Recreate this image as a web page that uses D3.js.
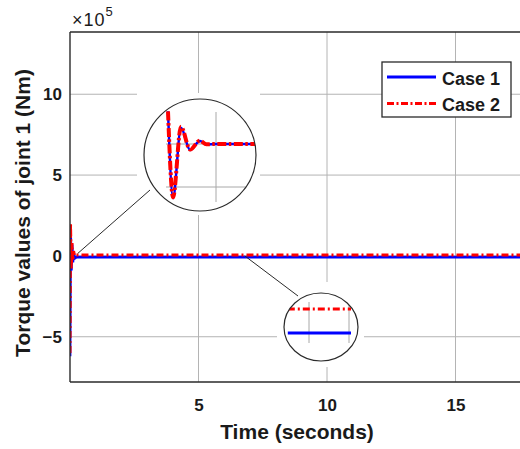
<!DOCTYPE html>
<html>
<head>
<meta charset="utf-8">
<script src="https://cdn.jsdelivr.net/npm/d3@7"></script>
<style>
  html, body { margin: 0; padding: 0; background: #fff; }
  svg { display: block; }
  text { font-family: "Liberation Sans", Arial, sans-serif; fill: #1a1a1a; }
</style>
</head>
<body>
<svg id="chart" width="520" height="449"></svg>
<script>
// Joint 1 torque (units of 1e5 Nm) over time (seconds)
const case1Time = [0, 0.02, 0.05, 0.08, 0.11, 0.14, 0.18, 0.25, 20];
const case1Torque = [-6.2, 1.6, -0.9, 0.7, -0.4, 0.2, -0.15, -0.07, -0.07];
const case2Time = [0, 0.02, 0.05, 0.08, 0.11, 0.14, 0.18, 0.25, 20];
const case2Torque = [-6.0, 2.0, -0.8, 0.8, -0.3, 0.3, 0.0, 0.05, 0.05];

// Close-up of the start-up transient (shown in the upper magnifier)
const zoomTime = [0, 0.021, 0.054, 0.092, 0.133, 0.16, 0.2, 0.45];
const zoomCase1 = [0.38, -0.63, 0.19, -0.07, 0.035, -0.005, 0, 0];
const zoomCase2 = [0.38, -0.62, 0.2, -0.065, 0.04, -0.003, 0, 0];

// Close-up of the steady state (shown in the lower magnifier)
const steadyTime = [9.47, 11.05];

const xTicks = [5, 10, 15];
const yTicks = [-5, 0, 5, 10];
const seriesNames = ["Case 1", "Case 2"];
const seriesColors = ["#0000ff", "#ff0000"];

const svg = d3.select("#chart");
const x = d3.scaleLinear().domain([0, 20]).range([70, 584]);
const y = d3.scaleLinear().domain([-7.8, 13.85]).range([382, 32]);
const plotRight = 560;

svg.append("defs").append("clipPath").attr("id", "plotClip")
  .append("rect").attr("x", x(0)).attr("y", y.range()[1])
  .attr("width", x(20) - x(0)).attr("height", y.range()[0] - y.range()[1]);

// grid
const grid = svg.append("g").attr("stroke", "#b4b4b4").attr("stroke-width", 1);
grid.selectAll(".gx").data(xTicks.concat([20])).join("line")
  .attr("x1", d => x(d)).attr("x2", d => x(d))
  .attr("y1", y.range()[1]).attr("y2", y.range()[0]);
grid.selectAll(".gy").data(yTicks).join("line")
  .attr("x1", x(0)).attr("x2", plotRight)
  .attr("y1", d => y(d)).attr("y2", d => y(d));

// white backdrops behind the magnifiers
svg.append("rect").attr("x", 137).attr("y", 93).attr("width", 123).attr("height", 122).attr("fill", "#fff");
svg.append("rect").attr("x", 277).attr("y", 282).attr("width", 87).attr("height", 85).attr("fill", "#fff");

// main traces
const line = d3.line().x(d => x(d[0])).y(d => y(d[1]));
const traces = svg.append("g").attr("clip-path", "url(#plotClip)").attr("fill", "none");
traces.append("path")
  .attr("d", line(case1Time.map((t, i) => [t, case1Torque[i]])))
  .attr("stroke", seriesColors[0]).attr("stroke-width", 2.8);
traces.append("path")
  .attr("d", line(case2Time.map((t, i) => [t, case2Torque[i]])))
  .attr("stroke", seriesColors[1]).attr("stroke-width", 3)
  .attr("stroke-dasharray", "7,3,2,3");

// axes box
const axisG = svg.append("g").attr("stroke", "#2a2a2a").attr("stroke-width", 1.4);
axisG.append("line").attr("x1", x(0)).attr("x2", x(0)).attr("y1", y.range()[1]).attr("y2", y.range()[0]);
axisG.append("line").attr("x1", x(0)).attr("x2", plotRight).attr("y1", y.range()[0]).attr("y2", y.range()[0]);
axisG.append("line").attr("x1", x(0)).attr("x2", plotRight).attr("y1", y.range()[1]).attr("y2", y.range()[1]);

// tick labels
const xAxis = svg.append("g").attr("transform", `translate(0,${y.range()[0]})`)
  .call(d3.axisBottom(x).tickValues(xTicks).tickSize(0).tickPadding(17));
const yAxis = svg.append("g").attr("transform", `translate(${x(0)},0)`)
  .call(d3.axisLeft(y).tickValues(yTicks).tickSize(0).tickPadding(8));
[xAxis, yAxis].forEach(g => {
  g.select(".domain").remove();
  g.selectAll("text").attr("font-size", 17).attr("font-weight", "bold")
    .attr("font-family", "Liberation Sans, Arial, sans-serif").attr("fill", "#1a1a1a");
});

// exponent
const expo = svg.append("text").attr("x", 72).attr("y", 26).attr("font-size", 18)
  .attr("letter-spacing", 1);
expo.append("tspan").text("\u00d710");
expo.append("tspan").attr("font-size", 13).attr("dy", -10).text("5");

// axis titles
svg.append("text").attr("x", 297).attr("y", 439).attr("text-anchor", "middle")
  .attr("font-size", 21).attr("font-weight", "bold").text("Time (seconds)");
svg.append("text").attr("transform", "translate(30,213) rotate(-90)").attr("text-anchor", "middle")
  .attr("font-size", 21).attr("font-weight", "bold").text("Torque values of joint 1 (Nm)");

// ---- upper magnifier: start-up transient ----
const c1 = { cx: 200, cy: 155, r: 56 };
const zx = d3.scaleLinear().domain([0, 0.2]).range([168, 216]);
const zy = d3.scaleLinear().domain([0, -0.5]).range([144, 187]);
const defs = svg.select("defs");
defs.append("clipPath").attr("id", "zoomClip1")
  .append("circle").attr("cx", c1.cx).attr("cy", c1.cy).attr("r", c1.r);
const z1 = svg.append("g").attr("clip-path", "url(#zoomClip1)");
z1.append("circle").attr("cx", c1.cx).attr("cy", c1.cy).attr("r", c1.r).attr("fill", "#fff");
const z1grid = z1.append("g").attr("stroke", "#a8a8a8").attr("stroke-width", 1);
z1grid.append("line").attr("x1", zx(0.2)).attr("x2", zx(0.2)).attr("y1", 112).attr("y2", 202);
[0, -0.5].forEach(v => z1grid.append("line").attr("x1", 166).attr("x2", 262).attr("y1", zy(v)).attr("y2", zy(v)));
const zline = d3.line().curve(d3.curveMonotoneX).x(d => zx(d[0])).y(d => zy(d[1]));
z1.append("path").attr("fill", "none").attr("stroke", seriesColors[0]).attr("stroke-width", 2.5)
  .attr("d", zline(zoomTime.map((t, i) => [t, zoomCase1[i]])));
z1.append("path").attr("fill", "none").attr("stroke", seriesColors[1]).attr("stroke-width", 4)
  .attr("stroke-dasharray", "9,2.5,2.5,2.5")
  .attr("d", zline(zoomTime.map((t, i) => [t, zoomCase2[i]])));
svg.append("circle").attr("cx", c1.cx).attr("cy", c1.cy).attr("r", c1.r)
  .attr("fill", "none").attr("stroke", "#2a2a2a").attr("stroke-width", 1.2);

// ---- lower magnifier: steady state ----
const c2 = { cx: 321, cy: 327, rx: 37, ry: 34 };
const sx = d3.scaleLinear().domain([10, 11]).range([309, 349]);
const sy = d3.scaleLinear().domain([case1Torque[8], case2Torque[8]]).range([333, 309]);
defs.append("clipPath").attr("id", "zoomClip2")
  .append("ellipse").attr("cx", c2.cx).attr("cy", c2.cy).attr("rx", c2.rx).attr("ry", c2.ry);
const z2 = svg.append("g").attr("clip-path", "url(#zoomClip2)");
z2.append("ellipse").attr("cx", c2.cx).attr("cy", c2.cy).attr("rx", c2.rx).attr("ry", c2.ry).attr("fill", "#fff");
z2.append("g").attr("stroke", "#a8a8a8").attr("stroke-width", 1)
  .selectAll("line").data([10, 11]).join("line")
  .attr("x1", d => sx(d)).attr("x2", d => sx(d)).attr("y1", 302).attr("y2", 343);
const sline = d3.line().x(d => sx(d[0])).y(d => sy(d[1]));
z2.append("path").attr("fill", "none").attr("stroke", seriesColors[0]).attr("stroke-width", 3)
  .attr("d", sline(steadyTime.map(t => [t, case1Torque[8]])));
z2.append("path").attr("fill", "none").attr("stroke", seriesColors[1]).attr("stroke-width", 3)
  .attr("stroke-dasharray", "7,3,2,3")
  .attr("d", sline(steadyTime.map(t => [t, case2Torque[8]])));
svg.append("ellipse").attr("cx", c2.cx).attr("cy", c2.cy).attr("rx", c2.rx).attr("ry", c2.ry)
  .attr("fill", "none").attr("stroke", "#2a2a2a").attr("stroke-width", 1.2);

// connectors from the traces to the magnifiers
const conn = svg.append("g").attr("stroke", "#2a2a2a").attr("stroke-width", 1);
conn.append("line").attr("x1", x(0.3)).attr("y1", y(0.15)).attr("x2", 150).attr("y2", 190);
conn.append("line").attr("x1", x(6.8)).attr("y1", y(0)).attr("x2", 298).attr("y2", 296);

// legend
const lg = svg.append("g");
lg.append("rect").attr("x", 382).attr("y", 62).attr("width", 129).attr("height", 55)
  .attr("fill", "#fff").attr("stroke", "#2a2a2a").attr("stroke-width", 1.3);
seriesNames.forEach((name, i) => {
  const yy = 77 + i * 26.5;
  lg.append("line").attr("x1", 387).attr("x2", 436).attr("y1", yy).attr("y2", yy)
    .attr("stroke", seriesColors[i]).attr("stroke-width", 3)
    .attr("stroke-dasharray", i === 1 ? "7,2.5,2,2.5" : null);
  lg.append("text").attr("x", 442).attr("y", yy + 7.5).attr("font-size", 18)
    .attr("font-weight", "bold").text(name);
});
</script>
</body>
</html>
